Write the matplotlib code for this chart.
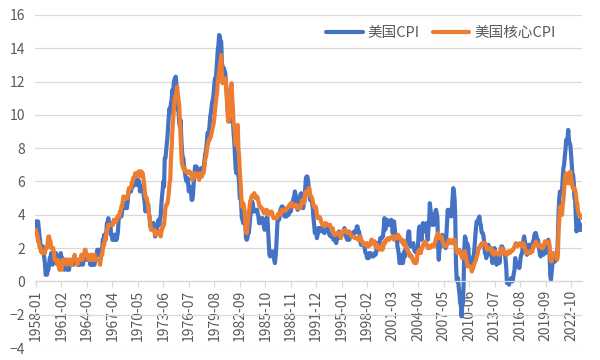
import matplotlib
matplotlib.use("Agg")
import matplotlib.pyplot as plt
import pandas as pd

plt.rcParams['font.family'] = ['Noto Sans CJK SC', 'DejaVu Sans']

# Monthly YoY, 1958-01 .. 2024-02
cpi = [
 3.6, 3.2, 3.6, 3.6, 3.2, 2.8, 2.4, 2.1, 2.1, 2.1, 2.1, 1.8,   # 1958
 1.4, 1.1, 0.4, 0.4, 0.4, 0.7, 0.7, 1.0, 1.4, 1.4, 1.7, 1.7,   # 1959
 1.0, 1.7, 1.7, 1.7, 1.7, 1.7, 1.4, 1.4, 1.0, 1.4, 1.4, 1.4,   # 1960
 1.7, 1.4, 1.4, 1.0, 1.0, 0.7, 1.3, 1.0, 1.3, 0.7, 0.7, 0.7,   # 1961
 0.7, 1.0, 1.0, 1.3, 1.3, 1.3, 1.0, 1.3, 1.3, 1.3, 1.3, 1.3,   # 1962
 1.3, 1.0, 1.3, 1.0, 1.0, 1.3, 1.3, 1.3, 1.0, 1.3, 1.3, 1.6,   # 1963
 1.6, 1.6, 1.3, 1.3, 1.3, 1.3, 1.3, 1.0, 1.3, 1.0, 1.3, 1.0,   # 1964
 1.0, 1.0, 1.3, 1.6, 1.6, 1.9, 1.6, 1.9, 1.6, 1.9, 1.6, 1.9,   # 1965
 1.9, 2.5, 2.5, 2.8, 2.8, 2.5, 2.8, 3.5, 3.5, 3.8, 3.5, 3.5,   # 1966
 3.5, 2.8, 2.8, 2.5, 2.5, 2.8, 2.8, 2.5, 2.8, 2.5, 2.7, 3.0,   # 1967
 3.7, 4.0, 4.0, 3.9, 3.9, 4.2, 4.5, 4.5, 4.4, 4.7, 4.7, 4.7,   # 1968
 4.4, 4.7, 5.2, 5.5, 5.5, 5.5, 5.4, 5.7, 5.7, 5.7, 5.9, 6.2,   # 1969
 6.2, 6.1, 5.8, 6.1, 6.1, 6.0, 6.0, 5.4, 5.7, 5.7, 5.6, 5.6,   # 1970
 5.3, 5.0, 4.7, 4.2, 4.4, 4.6, 4.4, 4.6, 4.1, 3.8, 3.3, 3.3,   # 1971
 3.3, 3.5, 3.5, 3.5, 3.2, 2.7, 2.9, 2.9, 3.2, 3.4, 3.7, 3.4,   # 1972
 3.7, 3.9, 4.6, 5.1, 5.5, 6.0, 5.7, 7.4, 7.4, 7.8, 8.3, 8.7,   # 1973
 9.4, 10.0, 10.4, 10.1, 10.7, 10.9, 11.5, 10.9, 11.9, 12.1, 12.2, 12.3,  # 1974
 11.8, 11.2, 10.3, 10.2, 9.5, 9.3, 9.7, 8.6, 7.9, 7.4, 7.4, 6.9,  # 1975
 6.7, 6.3, 6.1, 6.0, 6.2, 5.9, 5.4, 5.7, 5.5, 5.5, 4.9, 4.9,   # 1976
 5.2, 5.9, 6.4, 6.9, 6.7, 6.9, 6.8, 6.6, 6.6, 6.4, 6.7, 6.7,   # 1977
 6.8, 6.4, 6.6, 6.5, 7.0, 7.4, 7.7, 7.9, 8.3, 8.9, 8.9, 9.0,   # 1978
 9.3, 9.9, 10.1, 10.5, 10.8, 10.9, 11.3, 11.8, 12.2, 12.1, 12.6, 13.3,  # 1979
 13.9, 14.2, 14.8, 14.7, 14.4, 14.4, 13.1, 12.9, 12.6, 12.8, 12.6, 12.5,  # 1980
 11.8, 11.4, 10.5, 10.0, 9.8, 9.6, 10.8, 10.8, 11.0, 10.1, 9.6, 8.9,  # 1981
 8.4, 7.6, 6.8, 6.5, 6.7, 7.1, 6.4, 5.9, 5.0, 5.1, 4.6, 3.8,   # 1982
 3.7, 3.5, 3.6, 3.9, 3.5, 2.6, 2.5, 2.6, 2.9, 2.9, 3.3, 3.8,   # 1983
 4.2, 4.6, 4.8, 4.6, 4.2, 4.2, 4.2, 4.3, 4.3, 4.3, 4.1, 3.9,   # 1984
 3.5, 3.5, 3.7, 3.7, 3.8, 3.8, 3.6, 3.3, 3.1, 3.2, 3.5, 3.8,   # 1985
 3.9, 3.1, 2.3, 1.6, 1.5, 1.8, 1.6, 1.6, 1.8, 1.5, 1.3, 1.1,   # 1986
 1.5, 2.1, 3.0, 3.8, 3.9, 3.7, 3.9, 4.3, 4.4, 4.5, 4.5, 4.4,   # 1987
 4.0, 3.9, 3.9, 3.9, 3.9, 4.0, 4.1, 4.0, 4.2, 4.2, 4.2, 4.4,   # 1988
 4.7, 4.8, 5.0, 5.1, 5.4, 5.2, 5.0, 4.7, 4.3, 4.5, 4.7, 4.6,   # 1989
 5.2, 5.3, 5.2, 4.7, 4.4, 4.7, 4.8, 5.6, 6.2, 6.3, 6.3, 6.1,   # 1990
 5.7, 5.3, 4.9, 4.9, 5.0, 4.7, 4.4, 3.8, 3.4, 2.9, 3.0, 3.1,   # 1991
 2.6, 2.8, 3.2, 3.2, 3.0, 3.1, 3.2, 3.1, 3.0, 3.2, 3.0, 2.9,   # 1992
 3.3, 3.2, 3.1, 3.2, 3.2, 3.0, 2.8, 2.8, 2.7, 2.8, 2.7, 2.7,   # 1993
 2.5, 2.5, 2.5, 2.4, 2.3, 2.5, 2.8, 2.9, 3.0, 2.6, 2.7, 2.7,   # 1994
 2.8, 2.9, 2.9, 3.1, 3.2, 3.0, 2.8, 2.6, 2.5, 2.8, 2.6, 2.5,   # 1995
 2.7, 2.7, 2.8, 2.9, 2.9, 2.8, 3.0, 2.9, 3.0, 3.0, 3.3, 3.3,   # 1996
 3.0, 3.0, 2.8, 2.5, 2.2, 2.3, 2.2, 2.2, 2.2, 2.1, 1.8, 1.7,   # 1997
 1.6, 1.4, 1.4, 1.4, 1.7, 1.7, 1.7, 1.6, 1.5, 1.5, 1.5, 1.6,   # 1998
 1.7, 1.6, 1.7, 2.3, 2.1, 2.0, 2.1, 2.3, 2.6, 2.6, 2.6, 2.7,   # 1999
 2.7, 3.2, 3.8, 3.1, 3.2, 3.7, 3.7, 3.4, 3.5, 3.4, 3.4, 3.4,   # 2000
 3.7, 3.5, 2.9, 3.3, 3.6, 3.2, 2.7, 2.7, 2.6, 2.1, 1.9, 1.6,   # 2001
 1.1, 1.1, 1.5, 1.6, 1.2, 1.1, 1.5, 1.8, 1.5, 2.0, 2.2, 2.4,   # 2002
 2.6, 3.0, 3.0, 2.2, 2.1, 2.1, 2.1, 2.2, 2.3, 2.0, 1.8, 1.9,   # 2003
 1.9, 1.7, 1.7, 2.3, 3.1, 3.3, 3.0, 2.7, 2.5, 3.2, 3.5, 3.3,   # 2004
 3.0, 3.0, 3.1, 3.5, 2.8, 2.5, 3.2, 3.6, 4.7, 4.3, 3.5, 3.4,   # 2005
 4.0, 3.6, 3.4, 3.5, 4.2, 4.3, 4.1, 3.8, 2.1, 1.3, 2.0, 2.5,   # 2006
 2.1, 2.4, 2.8, 2.6, 2.7, 2.7, 2.4, 2.0, 2.8, 3.5, 4.3, 4.1,   # 2007
 4.3, 4.0, 4.0, 3.9, 4.2, 5.0, 5.6, 5.4, 4.9, 3.7, 1.1, 0.1,   # 2008
 0.0, 0.2, -0.4, -0.7, -1.3, -1.4, -2.1, -1.5, -1.3, -0.2, 1.8, 2.7,  # 2009
 2.6, 2.1, 2.3, 2.2, 2.0, 1.1, 1.2, 1.1, 1.1, 1.2, 1.1, 1.5,   # 2010
 1.6, 2.1, 2.7, 3.2, 3.6, 3.6, 3.6, 3.8, 3.9, 3.5, 3.4, 3.0,   # 2011
 2.9, 2.9, 2.7, 2.3, 1.7, 1.7, 1.4, 1.7, 2.0, 2.2, 1.8, 1.7,   # 2012
 1.6, 2.0, 1.5, 1.1, 1.4, 1.8, 2.0, 1.5, 1.2, 1.0, 1.2, 1.5,   # 2013
 1.6, 1.1, 1.5, 2.0, 2.1, 2.1, 2.0, 1.7, 1.7, 1.7, 1.3, 0.8,   # 2014
 -0.1, 0.0, -0.1, -0.2, 0.0, 0.1, 0.2, 0.2, 0.0, 0.2, 0.5, 0.7,  # 2015
 1.4, 1.0, 0.9, 1.1, 1.0, 1.0, 0.8, 1.1, 1.5, 1.6, 1.7, 2.1,   # 2016
 2.5, 2.7, 2.4, 2.2, 1.9, 1.6, 1.7, 1.9, 2.2, 2.0, 2.2, 2.1,   # 2017
 2.1, 2.2, 2.4, 2.5, 2.8, 2.9, 2.9, 2.7, 2.3, 2.5, 2.2, 1.9,   # 2018
 1.6, 1.5, 1.9, 2.0, 1.8, 1.6, 1.8, 1.7, 1.7, 1.8, 2.1, 2.3,   # 2019
 2.5, 2.3, 1.5, 0.3, 0.1, 0.6, 1.0, 1.3, 1.4, 1.2, 1.2, 1.4,   # 2020
 1.4, 1.7, 2.6, 4.2, 5.0, 5.4, 5.4, 5.3, 5.4, 6.2, 6.8, 7.0,   # 2021
 7.5, 7.9, 8.5, 8.3, 8.6, 9.1, 8.5, 8.3, 8.2, 7.7, 7.1, 6.5,   # 2022
 6.4, 6.0, 5.0, 4.9, 4.0, 3.0, 3.2, 3.7, 3.7, 3.2, 3.1, 3.4,   # 2023
 3.1, 3.2,                                                     # 2024
]

core_cpi = [
 3.1, 2.8, 2.8, 2.4, 2.4, 2.1, 2.1, 1.8, 1.8, 1.7, 1.7, 1.7,   # 1958
 1.7, 1.7, 2.0, 2.0, 2.0, 2.4, 2.7, 2.7, 2.4, 2.4, 2.0, 2.0,   # 1959
 2.0, 2.0, 1.7, 1.3, 1.3, 1.3, 1.3, 1.0, 1.3, 1.0, 0.7, 1.0,   # 1960
 1.0, 0.7, 1.0, 1.3, 1.3, 1.3, 1.3, 1.3, 1.0, 1.3, 1.3, 1.3,   # 1961
 1.3, 1.3, 1.0, 1.0, 1.0, 1.3, 1.3, 1.3, 1.6, 1.3, 1.3, 1.3,   # 1962
 1.0, 1.3, 1.3, 1.3, 1.3, 1.3, 1.6, 1.3, 1.3, 1.6, 1.6, 1.9,   # 1963
 1.9, 1.6, 1.6, 1.6, 1.3, 1.3, 1.3, 1.3, 1.6, 1.6, 1.3, 1.3,   # 1964
 1.3, 1.6, 1.3, 1.3, 1.3, 1.3, 1.3, 1.3, 1.3, 1.0, 1.3, 1.6,   # 1965
 1.6, 1.9, 2.2, 2.2, 2.5, 2.5, 2.8, 3.1, 3.1, 3.4, 3.4, 3.4,   # 1966
 3.4, 3.4, 3.4, 3.4, 3.4, 3.7, 3.7, 3.6, 3.6, 3.6, 3.9, 3.9,   # 1967
 3.9, 3.9, 4.2, 4.2, 4.5, 4.5, 4.8, 5.1, 5.1, 5.0, 5.0, 5.0,   # 1968
 5.0, 5.0, 5.3, 5.6, 5.6, 5.6, 5.6, 5.9, 5.9, 6.2, 6.2, 6.2,   # 1969
 6.5, 6.4, 6.4, 6.4, 6.4, 6.6, 6.6, 6.3, 6.6, 6.6, 6.5, 6.5,   # 1970
 6.2, 5.9, 5.4, 5.1, 5.0, 5.0, 4.7, 4.4, 4.1, 3.8, 3.5, 3.1,   # 1971
 3.1, 3.1, 3.1, 3.1, 3.1, 2.8, 2.8, 2.9, 2.9, 3.0, 3.0, 3.0,   # 1972
 3.0, 2.7, 2.9, 3.2, 3.2, 3.4, 3.4, 3.9, 4.4, 4.6, 4.6, 4.7,   # 1973
 5.0, 5.4, 5.9, 6.1, 7.4, 8.0, 9.0, 9.6, 10.2, 10.8, 11.1, 11.1,  # 1974
 11.4, 11.7, 11.2, 10.9, 10.6, 9.6, 8.6, 7.7, 7.1, 6.9, 6.8, 6.7,  # 1975
 6.8, 6.6, 6.6, 6.6, 6.5, 6.6, 6.6, 6.6, 6.5, 6.5, 6.3, 6.1,   # 1976
 6.2, 6.3, 6.5, 6.3, 6.4, 6.4, 6.3, 6.5, 6.4, 6.1, 6.4, 6.5,   # 1977
 6.3, 6.3, 6.5, 6.5, 6.7, 7.0, 7.4, 7.5, 7.8, 8.1, 8.3, 8.5,   # 1978
 8.5, 8.6, 8.7, 8.9, 9.1, 9.3, 9.5, 9.8, 10.3, 10.7, 11.1, 11.3,  # 1979
 11.9, 12.3, 12.5, 12.9, 13.2, 13.6, 12.4, 11.9, 12.1, 12.1, 12.2, 12.2,  # 1980
 11.8, 11.0, 10.3, 9.6, 9.8, 10.0, 11.0, 11.6, 11.9, 11.0, 10.4, 9.5,  # 1981
 9.3, 8.9, 8.2, 8.2, 8.8, 9.4, 8.0, 7.5, 6.6, 6.0, 5.2, 4.5,   # 1982
 4.7, 4.7, 4.5, 4.2, 3.6, 3.0, 2.9, 3.2, 3.7, 4.1, 4.4, 4.8,   # 1983
 4.9, 5.1, 5.1, 5.2, 5.1, 5.3, 5.1, 5.0, 5.1, 5.1, 5.0, 4.8,   # 1984
 4.6, 4.5, 4.5, 4.4, 4.4, 4.3, 4.2, 4.1, 4.2, 4.2, 4.3, 4.3,   # 1985
 4.1, 4.0, 4.2, 4.1, 4.1, 4.1, 4.2, 4.1, 3.9, 3.8, 3.8, 3.8,   # 1986
 3.8, 3.8, 3.8, 4.0, 4.0, 4.1, 4.0, 4.0, 4.2, 4.3, 4.3, 4.2,   # 1987
 4.3, 4.3, 4.3, 4.3, 4.4, 4.4, 4.4, 4.5, 4.6, 4.5, 4.7, 4.7,   # 1988
 4.6, 4.5, 4.6, 4.6, 4.6, 4.5, 4.6, 4.4, 4.4, 4.5, 4.4, 4.4,   # 1989
 4.4, 4.6, 4.8, 4.9, 4.7, 4.7, 5.0, 5.3, 5.4, 5.3, 5.3, 5.2,   # 1990
 5.6, 5.6, 5.2, 5.1, 5.1, 5.0, 4.8, 4.6, 4.5, 4.4, 4.5, 4.4,   # 1991
 3.9, 3.8, 3.9, 3.9, 3.8, 3.8, 3.6, 3.5, 3.4, 3.4, 3.4, 3.3,   # 1992
 3.5, 3.5, 3.4, 3.4, 3.4, 3.4, 3.4, 3.4, 3.2, 3.2, 3.2, 3.2,   # 1993
 2.9, 2.8, 2.8, 2.8, 2.8, 2.9, 2.9, 2.9, 2.9, 2.8, 2.7, 2.6,   # 1994
 2.9, 3.0, 3.0, 3.0, 3.1, 3.0, 3.0, 3.0, 2.9, 3.0, 3.0, 3.0,   # 1995
 2.9, 2.8, 2.7, 2.7, 2.7, 2.7, 2.7, 2.6, 2.6, 2.6, 2.6, 2.6,   # 1996
 2.5, 2.5, 2.5, 2.7, 2.5, 2.4, 2.4, 2.3, 2.2, 2.3, 2.2, 2.2,   # 1997
 2.2, 2.3, 2.1, 2.1, 2.2, 2.2, 2.2, 2.5, 2.5, 2.3, 2.3, 2.4,   # 1998
 2.4, 2.1, 2.1, 2.2, 2.0, 2.1, 2.1, 1.9, 2.0, 2.1, 2.1, 1.9,   # 1999
 2.0, 2.2, 2.4, 2.3, 2.4, 2.5, 2.5, 2.6, 2.6, 2.5, 2.6, 2.6,   # 2000
 2.6, 2.7, 2.7, 2.6, 2.5, 2.7, 2.7, 2.7, 2.6, 2.6, 2.8, 2.7,   # 2001
 2.6, 2.6, 2.4, 2.5, 2.5, 2.3, 2.2, 2.4, 2.2, 2.2, 2.0, 1.9,   # 2002
 1.9, 1.7, 1.7, 1.5, 1.6, 1.5, 1.5, 1.3, 1.2, 1.3, 1.1, 1.1,   # 2003
 1.1, 1.2, 1.6, 1.8, 1.7, 1.9, 1.8, 1.7, 2.0, 2.0, 2.2, 2.2,   # 2004
 2.3, 2.4, 2.3, 2.2, 2.2, 2.0, 2.1, 2.1, 2.0, 2.1, 2.1, 2.2,   # 2005
 2.1, 2.1, 2.1, 2.3, 2.4, 2.6, 2.7, 2.8, 2.9, 2.7, 2.6, 2.6,   # 2006
 2.7, 2.7, 2.5, 2.3, 2.2, 2.2, 2.2, 2.1, 2.1, 2.2, 2.3, 2.4,   # 2007
 2.5, 2.3, 2.4, 2.3, 2.3, 2.4, 2.5, 2.5, 2.5, 2.2, 2.0, 1.8,   # 2008
 1.7, 1.8, 1.8, 1.9, 1.8, 1.7, 1.5, 1.4, 1.5, 1.7, 1.7, 1.8,   # 2009
 1.6, 1.3, 1.1, 0.9, 0.9, 0.9, 0.9, 0.9, 0.8, 0.6, 0.8, 0.8,   # 2010
 1.0, 1.1, 1.2, 1.3, 1.5, 1.6, 1.8, 2.0, 2.0, 2.1, 2.2, 2.2,   # 2011
 2.3, 2.2, 2.3, 2.3, 2.3, 2.2, 2.1, 1.9, 2.0, 2.0, 1.9, 1.9,   # 2012
 1.9, 2.0, 1.9, 1.7, 1.7, 1.6, 1.7, 1.8, 1.7, 1.7, 1.7, 1.7,   # 2013
 1.6, 1.6, 1.7, 1.8, 2.0, 1.9, 1.9, 1.7, 1.7, 1.8, 1.7, 1.6,   # 2014
 1.6, 1.7, 1.8, 1.8, 1.7, 1.8, 1.8, 1.8, 1.9, 1.9, 2.0, 2.1,   # 2015
 2.2, 2.3, 2.2, 2.1, 2.2, 2.2, 2.2, 2.3, 2.2, 2.1, 2.1, 2.2,   # 2016
 2.3, 2.2, 2.0, 1.9, 1.7, 1.7, 1.7, 1.7, 1.7, 1.8, 1.7, 1.8,   # 2017
 1.8, 1.8, 2.1, 2.1, 2.2, 2.3, 2.4, 2.2, 2.2, 2.1, 2.2, 2.2,   # 2018
 2.2, 2.1, 2.0, 2.1, 2.0, 2.1, 2.2, 2.4, 2.4, 2.3, 2.3, 2.3,   # 2019
 2.3, 2.4, 2.1, 1.4, 1.2, 1.2, 1.6, 1.7, 1.7, 1.6, 1.6, 1.6,   # 2020
 1.4, 1.3, 1.6, 3.0, 3.8, 4.5, 4.3, 4.0, 4.0, 4.6, 4.9, 5.5,   # 2021
 6.0, 6.4, 6.5, 6.2, 6.0, 5.9, 5.9, 6.3, 6.6, 6.3, 6.0, 5.7,   # 2022
 5.6, 5.5, 5.6, 5.5, 5.3, 4.8, 4.7, 4.3, 4.1, 4.0, 4.0, 3.9,   # 2023
 3.9, 3.8,                                                     # 2024
]

months = pd.period_range('1958-01', periods=len(cpi), freq='M').strftime('%Y-%m').tolist()
tick_step = 37
tick_labels = months[::tick_step]
series_names = ['美国CPI', '美国核心CPI']
colors = ['#4472C4', '#ED7D31']

fig = plt.figure(figsize=(6, 3.6), dpi=100)
ax = fig.add_axes([35/600, 12/360, 547/600, 333/360])

x = list(range(len(cpi)))
ax.plot(x, cpi, color=colors[0], lw=3.0, label=series_names[0],
        solid_joinstyle='round', solid_capstyle='round')
ax.plot(x, core_cpi, color=colors[1], lw=3.0, label=series_names[1],
        solid_joinstyle='round', solid_capstyle='round')

ax.set_ylim(-4, 16)
ax.set_yticks(range(-4, 17, 2))
ax.set_xlim(-1.45, len(cpi) - 1)
ax.set_xticks(x[::tick_step])
ax.set_xticklabels(tick_labels)

for s in ['top', 'right', 'left']:
    ax.spines[s].set_visible(False)
ax.spines['bottom'].set_position(('data', 0))
ax.spines['bottom'].set_color('#D9D9D9')
ax.spines['bottom'].set_linewidth(0.9)
ax.set_axisbelow(True)
ax.grid(axis='y', color='#D9D9D9', lw=0.9)
ax.grid(axis='x', visible=False)

ax.tick_params(axis='x', length=4, width=0.9, color='#D9D9D9', labelsize=10,
               labelcolor='#595959', pad=2, labelrotation=90)
ax.tick_params(axis='y', length=0, labelsize=10, labelcolor='#595959', pad=7)
for lab in ax.get_xticklabels():
    lab.set_ha('center')
    lab.set_va('top')

leg = ax.legend(loc='center', bbox_to_anchor=(441/600, 1 - 33/360),
                bbox_transform=fig.transFigure, ncol=2, frameon=False,
                fontsize=10.5, handlelength=2.5, handletextpad=0.35,
                columnspacing=0.9)
for t in leg.get_texts():
    t.set_color('#595959')

fig.savefig('out.png', dpi=100)
